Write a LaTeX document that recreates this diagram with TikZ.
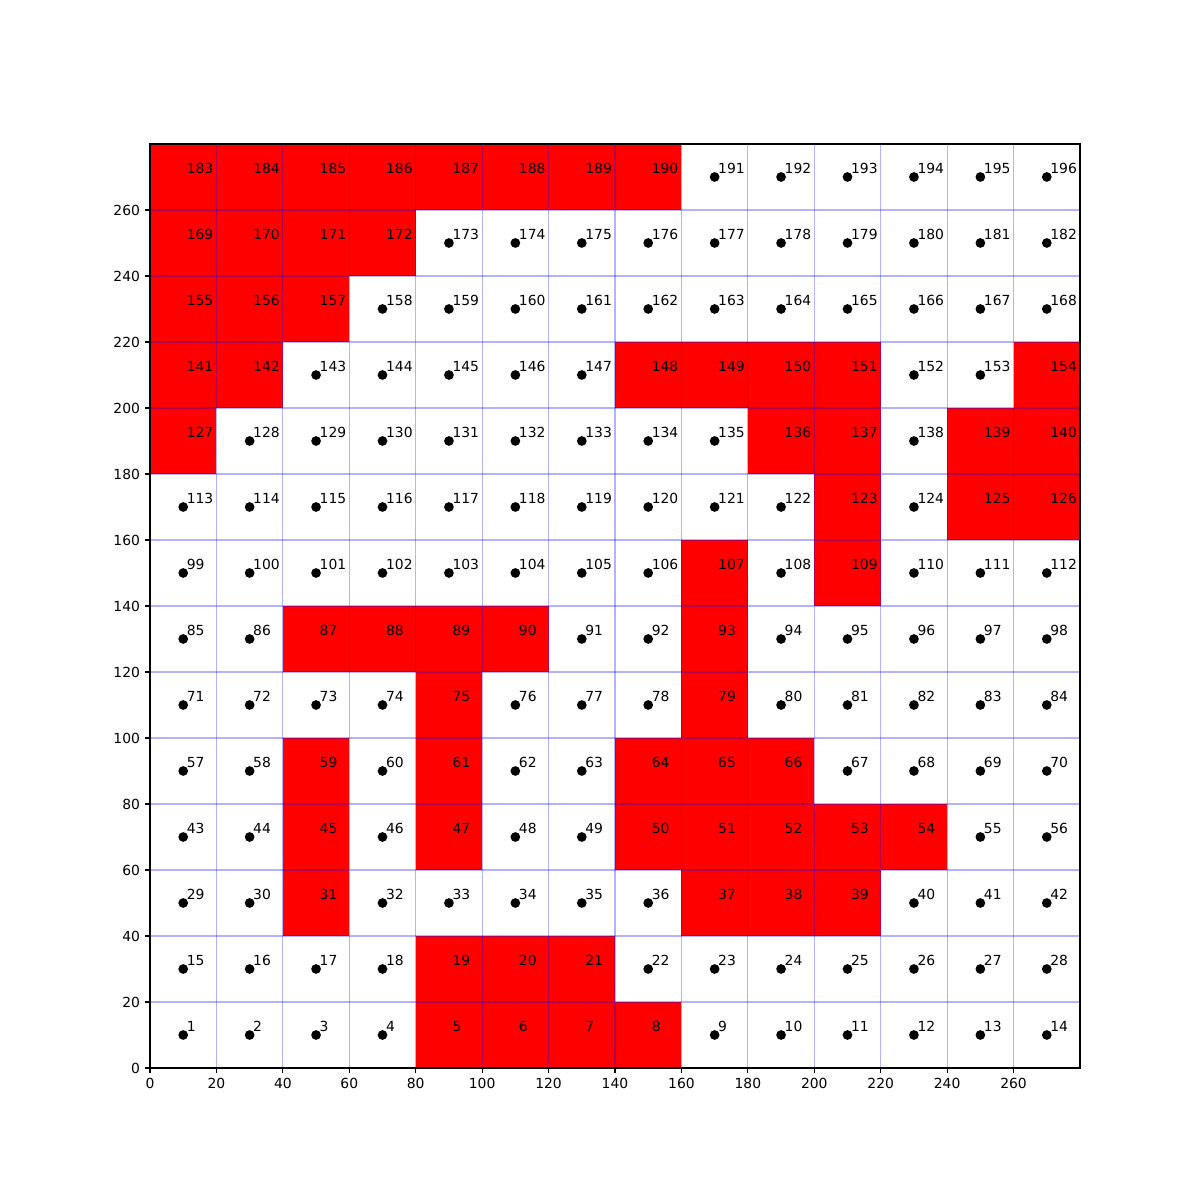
\documentclass[tikz,border=0pt]{standalone}
\usepackage{fontspec}
\setmainfont{DejaVu Sans}
\begin{document}
\begin{tikzpicture}[x=2.3914pt,y=2.376pt,
  cellfill/.style={fill=red},
  gridline/.style={draw=blue,draw opacity=0.3,line width=0.8pt},
  dotmark/.style={circle,fill=black,inner sep=0pt,minimum size=7pt},
  lbl/.style={anchor=base west,inner sep=0pt,font=\fontsize{10pt}{12pt}\selectfont},
  ticklbl/.style={inner sep=0pt,font=\fontsize{10pt}{12pt}\selectfont},
  tickmark/.style={line width=0.8pt},
  frame/.style={line width=0.8pt}]
\useasboundingbox (-108pt,-95.04pt) rectangle (756pt,768.96pt);
\fill[white] (-108pt,-95.04pt) rectangle (756pt,768.96pt);
% red cells
\foreach \n in {5,6,7,8,19,20,21,31,37,38,39,45,47,50,51,52,53,54,59,61,64,65,66,75,79,87,88,89,90,93,107,109,123,125,126,127,136,137,139,140,141,142,148,149,150,151,154,155,156,157,169,170,171,172,183,184,185,186,187,188,189,190}{
  \expandafter\gdef\csname redcell\n\endcsname{}
  \pgfmathtruncatemacro{\col}{mod(\n-1,14)}
  \pgfmathtruncatemacro{\row}{(\n-1)/14}
  \fill[cellfill] (\col*20,\row*20) rectangle ++(20,20);
}
% grid
\foreach \v in {20,40,...,260}{
  \draw[gridline] (\v,0) -- (\v,280);
  \draw[gridline] (0,\v) -- (280,\v);
}
% dots and labels
\foreach \n in {1,...,196}{
  \pgfmathtruncatemacro{\col}{mod(\n-1,14)}
  \pgfmathtruncatemacro{\row}{(\n-1)/14}
  \pgfmathtruncatemacro{\cx}{\col*20+10}
  \pgfmathtruncatemacro{\cy}{\row*20+10}
  \ifcsname redcell\n\endcsname\else
    \node[dotmark] (d\n) at (\cx,\cy) {};
  \fi
  \node[lbl] (t\n) at (\cx+1,\cy+1) {\n};
}
% frame
\draw[frame] (0,0) rectangle (280,280);
% ticks
\foreach \v in {0,20,...,260}{
  \draw[tickmark] (\v,0) -- ++(0,-3.5pt);
  \node[ticklbl,anchor=north] (xt\v) at ([yshift=-7pt]\v,0) {\v};
  \draw[tickmark] (0,\v) -- ++(-3.5pt,0);
  \node[ticklbl,anchor=east] (yt\v) at ([xshift=-7pt]0,\v) {\v};
}
\end{tikzpicture}
\end{document}
